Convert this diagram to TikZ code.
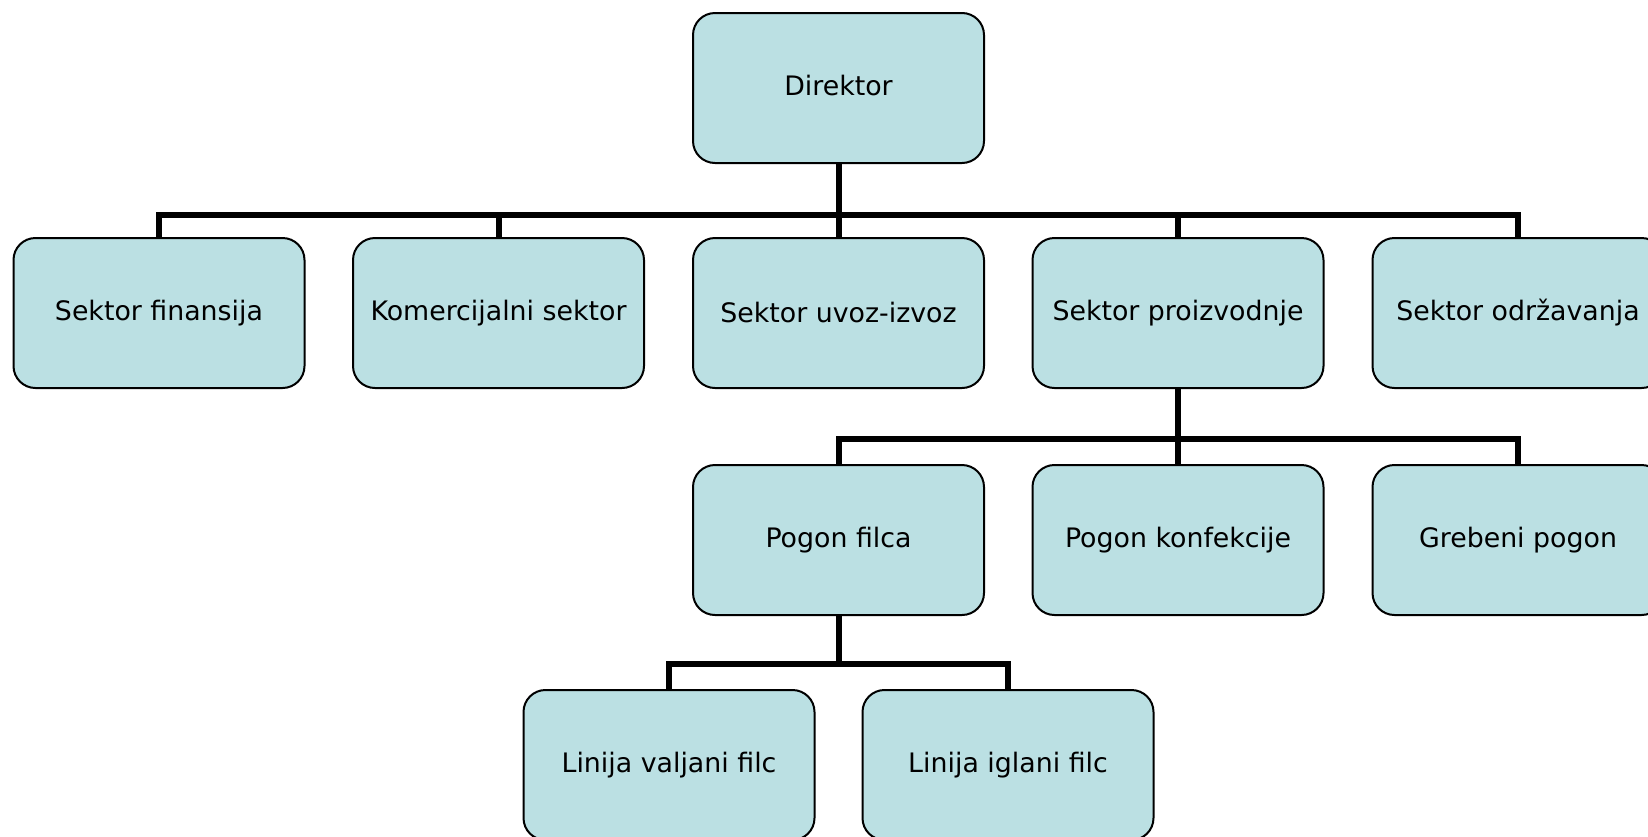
\documentclass[tikz,border=0pt]{standalone}
\usepackage{fontspec}
\setmainfont{DejaVu Sans}
\usetikzlibrary{backgrounds}
\definecolor{boxfill}{RGB}{187,224,227}
\tikzset{
  orgbox/.style={draw=black, line width=1pt, fill=boxfill, rounded corners=11pt,
    minimum width=145.5pt, minimum height=75pt, inner sep=0pt,
    font=\fontsize{13.4pt}{16pt}\selectfont, text=black},
  conn/.style={draw=black, line width=3pt, line join=miter}
}
\begin{document}
\begin{tikzpicture}[x=0.5pt,y=-0.5pt]
\useasboundingbox (0,0) rectangle (1648,836);
% row 1
\node[orgbox] (dir) at (838.5,88) {\raisebox{2.5pt}{Direktor}};
% row 2
\node[orgbox] (fin) at (159,313) {Sektor finansija};
\node[orgbox] (kom) at (498.5,313) {Komercijalni sektor};
\node[orgbox] (uvo) at (838.5,313) {Sektor uvoz-izvoz};
\node[orgbox] (pro) at (1178,313) {Sektor proizvodnje};
\node[orgbox] (odr) at (1518,313) {Sektor održavanja};
% row 3
\node[orgbox] (fil) at (838.5,540) {Pogon filca};
\node[orgbox] (kon) at (1178,540) {Pogon konfekcije};
\node[orgbox] (gre) at (1518,540) {Grebeni pogon};
% row 4
\node[orgbox] (val) at (669,765) {Linija valjani filc};
\node[orgbox] (igl) at (1008,765) {Linija iglani filc};
\coordinate (b1) at (838.5,215);
\coordinate (b2) at (1178,439);
\coordinate (b3) at (838.5,664);
\begin{scope}[on background layer]
\fill[white] (0,0) rectangle (1648,836);
\draw[conn] (dir.south) -- (b1);
\foreach \c in {fin,kom,uvo,pro,odr} {\draw[conn] (b1) -| (\c.north);}
\draw[conn] (pro.south) -- (b2);
\foreach \c in {fil,kon,gre} {\draw[conn] (b2) -| (\c.north);}
\draw[conn] (fil.south) -- (b3);
\foreach \c in {val,igl} {\draw[conn] (b3) -| (\c.north);}
\end{scope}
\end{tikzpicture}
\end{document}
